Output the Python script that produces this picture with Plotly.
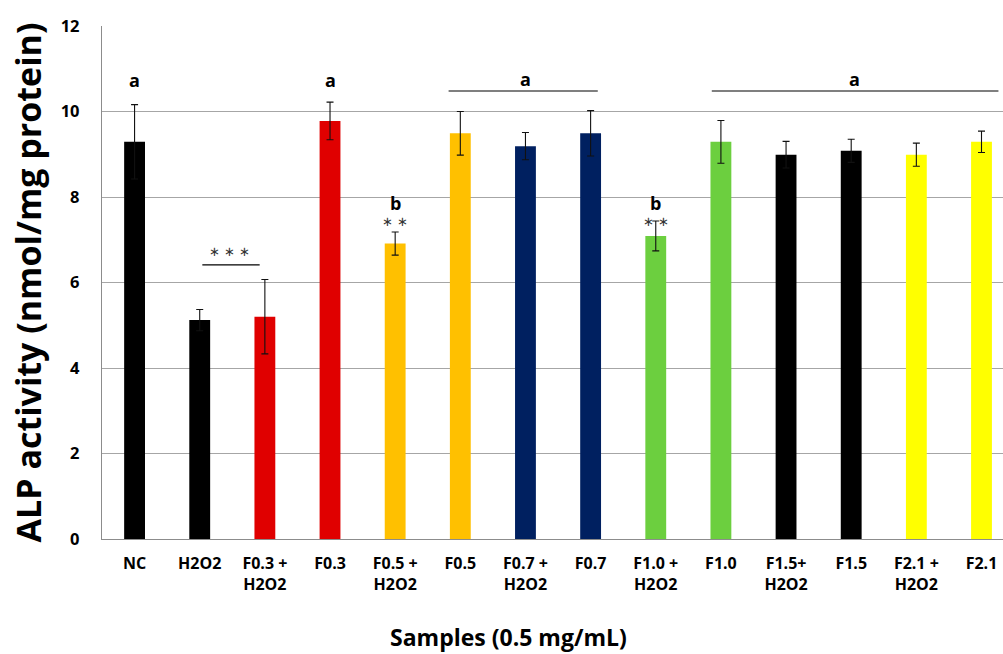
import plotly.graph_objects as go

categories = ["NC", "H2O2", "F0.3 +<br>H2O2", "F0.3", "F0.5 +<br>H2O2", "F0.5",
              "F0.7 +<br>H2O2", "F0.7", "F1.0 +<br>H2O2", "F1.0", "F1.5+<br>H2O2",
              "F1.5", "F2.1 +<br>H2O2", "F2.1"]
values = [9.29, 5.12, 5.20, 9.78, 6.91, 9.49, 9.19, 9.49, 7.09, 9.29, 8.99, 9.08, 8.99, 9.29]
errors = [0.87, 0.25, 0.87, 0.44, 0.27, 0.51, 0.32, 0.53, 0.35, 0.50, 0.31, 0.27, 0.27, 0.25]
colors = ["#000000", "#000000", "#E00000", "#E00000", "#FFC000", "#FFC000",
          "#002060", "#002060", "#6CCF3F", "#6CCF3F", "#000000", "#000000",
          "#FFFF00", "#FFFF00"]
y_ticks = [0, 2, 4, 6, 8, 10, 12]

FONT = "Open Sans"
x = list(range(len(categories)))

fig = go.Figure()
fig.add_trace(go.Bar(
    x=x, y=values, width=0.32,
    marker=dict(color=colors, line=dict(width=0)),
    error_y=dict(type="data", array=errors, visible=True, color="#111111",
                 thickness=1.1, width=3.5),
))

annotations = []
def txt(xv, yv, s, size=18, bold=True, color="#000000", family=FONT):
    annotations.append(dict(x=xv, y=yv, xref="x", yref="y", text=("<b>%s</b>" % s) if bold else s,
                            showarrow=False, font=dict(family=family, size=size, color=color)))

txt(0, 10.74, "a")
txt(3, 10.74, "a")
txt(6, 10.76, "a")
txt(11.05, 10.76, "a")
txt(1.45, 6.72, "∗ ∗ ∗", size=13, bold=False, color="#333333", family="DejaVu Sans")
txt(4, 7.85, "b")
txt(4, 7.42, "∗ ∗", size=13, bold=False, color="#333333", family="DejaVu Sans")
txt(8, 7.85, "b")
txt(8, 7.42, "∗ ∗", size=13, bold=False, color="#333333", family="DejaVu Sans")

# x-axis title placed under the labels
annotations.append(dict(xref="paper", yref="paper", x=(508 - 102) / 901, y=-(637 - 539) / 513,
                        xanchor="center", yanchor="middle", showarrow=False,
                        text="<b>Samples (0.5 mg/mL)</b>",
                        font=dict(family=FONT, size=23, color="#000000")))

shapes = []
def hline(x0, x1, yv):
    shapes.append(dict(type="line", xref="x", yref="y", x0=x0, x1=x1, y0=yv, y1=yv,
                       line=dict(color="#000000", width=1.2)))
hline(4.82, 7.11, 10.48)
hline(8.86, 13.26, 10.48)
hline(1.04, 1.92, 6.41)

fig.update_layout(
    width=1003, height=654,
    margin=dict(l=102, r=0, t=26, b=115),
    plot_bgcolor="white", paper_bgcolor="white",
    showlegend=False,
    annotations=annotations, shapes=shapes,
    xaxis=dict(
        tickmode="array", tickvals=x, ticktext=["<b>%s</b>" % c for c in categories],
        range=[-0.5, 13.33], showgrid=False, showline=True, linecolor="#8c8c8c",
        linewidth=1.3, ticks="", tickfont=dict(family=FONT, size=16, color="#000000"),
        ticklabelstandoff=10,
        fixedrange=True,
    ),
    yaxis=dict(
        range=[0, 12], tickvals=y_ticks, ticktext=["<b>%d</b>" % v for v in y_ticks],
        showgrid=True, gridcolor="#a6a6a6", gridwidth=1.2,
        showline=True, linecolor="#8c8c8c", linewidth=1.3, ticks="",
        tickfont=dict(family=FONT, size=16.5, color="#000000"), ticklabelstandoff=18,
        title=dict(text="<b>ALP activity (nmol/mg protein)</b>",
                   font=dict(family=FONT, size=34, color="#000000"), standoff=8),
        zeroline=False,
    ),
)

fig.write_html("out.html")
